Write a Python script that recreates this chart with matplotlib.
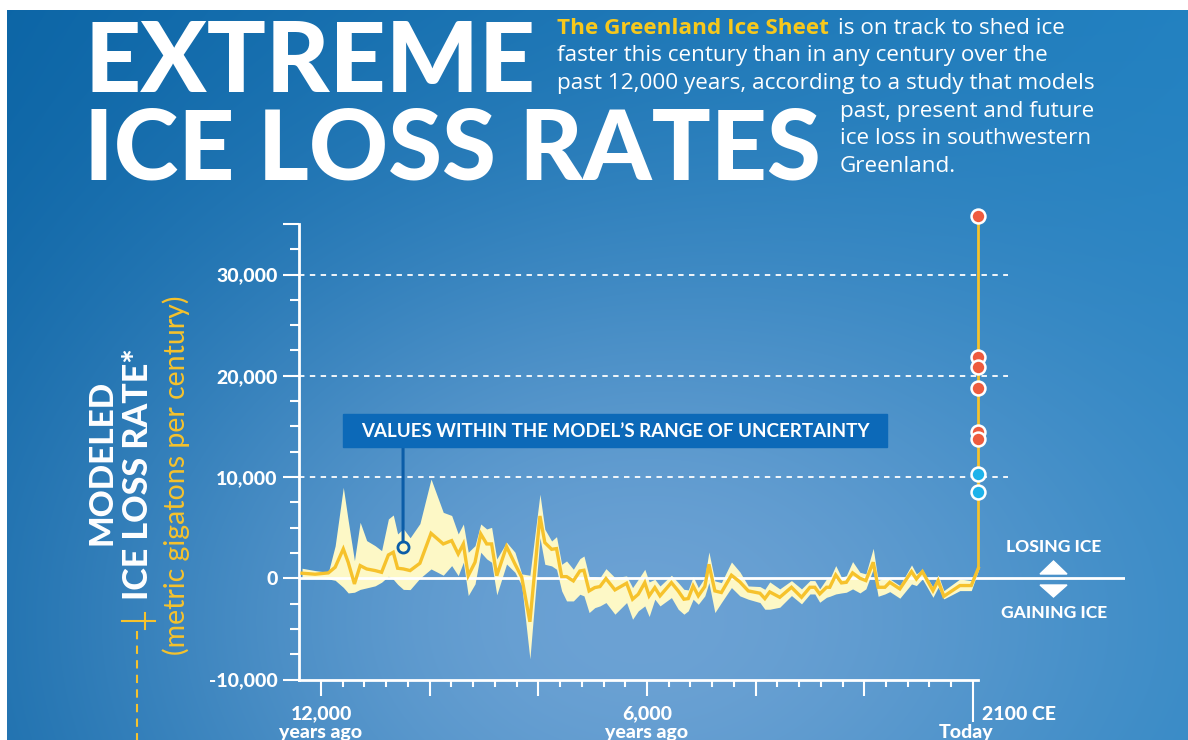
import numpy as np
import matplotlib
matplotlib.use('Agg')
import matplotlib.pyplot as plt
from matplotlib.patches import Rectangle, Polygon

plt.rcParams['font.family'] = ['Lato', 'DejaVu Sans']

# Modeled ice loss rate (years before present, gigatons per century).
years_ago = [12350, 12110, 11865, 11740, 11590, 11500, 11385, 11280, 11160, 11005,
             10885, 10760, 10670, 10590, 10485, 10360, 10180, 9975, 9750, 9595,
             9475, 9380, 9290, 9165, 9060, 8950, 8860, 8765, 8585, 8430,
             8305, 8155,
             7970, 7880, 7755, 7665, 7570, 7480, 7355, 7235, 7160, 7065,
             6960, 6865, 6755, 6590, 6375, 6265, 6160, 6040, 5960, 5855,
             5760, 5550, 5425, 5320, 5240, 5150, 5055, 4935, 4860, 4750,
             4630, 4445, 4290, 4135, 3920, 3830, 3740,
             3555, 3340, 3155, 3000, 2910, 2820, 2695, 2635, 2525, 2420,
             2330, 2215, 2080, 1970, 1835, 1745, 1620, 1530, 1345, 1130,
             1040, 930, 735, 640, 535, 240, 30, -100]
rate_mean = [500, 400, 530, 1090, 2900, 1580, -560, 1250, 920, 760,
             590, 2300, 2570, 990, 920, 760, 1480, 4440, 3390, 3720,
             2400, 3390, 260, 1580, 4380, 3390, 3390, 260, 3130, 1410,
             100, -4300,
             6150, 3520, 2860, 2930, 160, 160, -260, 720, 790, -1250,
             -920, -820, -30, -1150, -490, -2070, -1580, -430, -1740, -920,
             -1740, -430, -1250, -2070, -2010, -760, -1740, -820, 1380, -1250,
             -1410, 300, -360, -1250, -1480, -2010, -1350,
             -1880, -890, -1880, -890, -890, -1550, -890, -890, 330, -460,
             -400, 530, 0, -230, 1580, -890, -890, -400, -1050, 660,
             -70, 660, -1220, -230, -1780, -720, -720, 990]
rate_high = [990, 760, 590, 3200, 8980, 5700, 1740, 5530, 3720, 3220,
             2730, 5860, 6250, 4380, 4900, 4000, 5400, 9800, 6510, 6200,
             4380, 5360, 2570, 3220, 5360, 4870, 5030, 1910, 3550, 2570,
             430, 300,
             8300, 4840, 3680, 4110, 1380, 1710, 890, 1940, 2200, 160,
             160, 70, 950, 70, 230, -920, -100, 890, -360, -100,
             -760, 300, -430, -1090, -1150, 160, -920, 70, 2600, -260,
             -430, 1610, 630, -760, -820, -1090, -360,
             -1050, -230, -1050, -230, -230, -1050, -70, -70, 1250, 100,
             260, 1650, 590, 430, 2960, -230, 100, -70, -720, 1320,
             430, 860, -890, 330, -1220, -70, -230, 1320]
rate_low = [100, 0, -70, -200, -900, -1450, -1380, -1100, -950, -750,
            -390, 200, -100, -600, -1100, -1120, 0, 920, 300, 1250,
            260, 1580, -1710, -560, 2570, 1910, 1580, -1640, 1410, 590,
            -720, -7960,
            4000, 1380, 1220, 890, -1250, -2240, -2240, -1580, -1740, -3390,
            -2900, -2730, -2400, -3550, -2400, -4050, -3220, -2730, -3780, -2070,
            -2730, -1910, -3060, -3550, -3220, -2070, -2570, -1740, -430, -3390,
            -2400, -920, -1740, -2070, -2400, -3060, -3060,
            -2860, -1710, -2530, -1550, -1550, -2370, -1880, -1780, -1550, -1450,
            -1380, -1050, -1450, -1050, 920, -1780, -1550, -1320, -1970, -560,
            -720, -70, -1880, -890, -2040, -1220, -1220, 760]

# 2100 CE projections (dots on the vertical line).
proj_red = [35800, 21900, 20900, 18800, 14400, 13800]
proj_blue = [10300, 8500]

# Uncertainty callout point.
callout_year = 10490
callout_rate = 3060

y_ticks = [-10000, 0, 10000, 20000, 30000, 35000]
y_tick_labels = ['-10,000', '0', '10,000', '20,000', '30,000', '']
x_ticks = [12000, 10000, 8000, 6000, 4000, 2000, 0]
x_tick_labels = ['12,000\nyears ago', '', '', '6,000\nyears ago', '', '', '']

# Colours.
YELLOW = '#f6c22c'
BAND = '#fdf8c6'
RED = '#ee5b3e'
CYAN = '#1db2ea'
BOX_BLUE = '#0c69b8'
BODY = ['Open Sans', 'DejaVu Sans']

W, H = 1188, 740


def px(x, y):
    """ Pixel position (from top-left) to figure fraction. """
    return x / W, 1 - y / H


fig = plt.figure(figsize=(W / 100, H / 100), dpi=100)

# Background gradient panel with a white border on the top and left.
yy, xx = np.mgrid[0:H, 0:W]
dark = np.array([10, 100, 165]) / 255 + (np.array([32, 128, 192]) / 255 - np.array([10, 100, 165]) / 255) * (xx / W)[..., None]
light = np.array([108, 162, 212]) / 255
wgt = np.exp(-((xx - 640) / 560) ** 2 - ((yy - 620) / 400) ** 2)
img = dark + (light - dark) * wgt[..., None]
img[:10, :, :] = 1
img[:, :7, :] = 1
bg = fig.add_axes([0, 0, 1, 1], zorder=-10)
bg.imshow(np.clip(img, 0, 1), aspect='auto', interpolation='bilinear')
bg.axis('off')

# Main axes.
ax = fig.add_axes([299.3 / W, 1 - 679.5 / H, (1125 - 299.3) / W, (679.5 - 205.7) / H])
ax.patch.set_alpha(0)
ax.set_xlim(12400, -2800)
ax.set_ylim(-10000, 36800)

ax.fill_between(years_ago, rate_low, rate_high, color=BAND, lw=0, zorder=2)
ax.axhline(0, color='white', lw=2, zorder=3)
ax.hlines([10000, 20000, 30000], 12400, -650, colors='white', lw=1.3,
          linestyles=(0, (3, 3)), zorder=1)
ax.plot(years_ago, rate_mean, color=YELLOW, lw=2.4, zorder=4, solid_joinstyle='miter')
ax.plot([years_ago[-1], years_ago[-1]], [rate_mean[-1], max(proj_red)], color=YELLOW, lw=2, zorder=4)
ax.plot([years_ago[-1]] * len(proj_red), proj_red, 'o', ms=10, mfc=RED, mec='white', mew=1.8, zorder=6, clip_on=False)
ax.plot([years_ago[-1]] * len(proj_blue), proj_blue, 'o', ms=10, mfc=CYAN, mec='white', mew=1.8, zorder=6, clip_on=False)

# Callout marker and pointer.
box_l, box_t, box_r, box_b = 343, 414, 887, 447
ax.annotate('', xy=(callout_year, callout_rate), xytext=(callout_year, 1 - box_b / H),
            textcoords=('data', 'figure fraction'),
            arrowprops=dict(arrowstyle='-', color='#0b5da8', lw=2.2, shrinkA=0, shrinkB=4), zorder=7)
ax.plot(callout_year, callout_rate, 'o', ms=8, mfc='none', mec='#0b5da8', mew=2, zorder=7)
fig.patches.append(Rectangle(px(box_l, box_b), (box_r - box_l) / W, (box_b - box_t) / H,
                             transform=fig.transFigure, color=BOX_BLUE, zorder=5))
fig.text(*px((box_l + box_r) / 2, (box_t + box_b) / 2 + 1), "VALUES WITHIN THE MODEL\u2019S RANGE OF UNCERTAINTY",
         color='white', fontsize=13.5, weight='bold', ha='center', va='center', zorder=6)

# Axes styling.
for side in ['top', 'right']:
    ax.spines[side].set_visible(False)
ax.spines['left'].set_bounds(-10000, 35000)
ax.spines['bottom'].set_bounds(12400, -100)
for side in ['left', 'bottom']:
    ax.spines[side].set_color('white')
    ax.spines[side].set_linewidth(2)

ax.set_yticks(y_ticks)
ax.set_yticklabels(y_tick_labels)
ax.set_yticks(np.arange(-10000, 35001, 2500), minor=True)
ax.set_xticks(x_ticks)
ax.set_xticklabels(x_tick_labels, linespacing=1.15)
ax.set_xticks(np.arange(0, 12001, 400), minor=True)
ax.tick_params(axis='y', which='major', length=11.5, width=1.5, color='white', pad=4,
               labelcolor='white', labelsize=14)
ax.tick_params(axis='y', which='minor', length=6.5, width=1.5, color='white')
ax.tick_params(axis='x', which='major', length=11.5, width=1.5, color='white', pad=7,
               labelcolor='white', labelsize=14)
ax.tick_params(axis='x', which='minor', length=5, width=1.5, color='white')
for lab in ax.get_xticklabels() + ax.get_yticklabels():
    lab.set_fontweight('black')
ax.xaxis.get_major_ticks()[-1].tick1line.set_markersize(30)

fig.text(*px(982, 720), '2100 CE', color='white', fontsize=14, weight='black', va='baseline', ha='left')
fig.text(*px(966, 738), 'Today', color='white', fontsize=14, weight='black', va='baseline', ha='center')

# Losing / gaining ice marker on the right.
fig.text(*px(1054, 547), 'LOSING ICE', color='white', fontsize=12.5, weight='black', ha='center', va='center')
fig.text(*px(1054, 613), 'GAINING ICE', color='white', fontsize=12.5, weight='black', ha='center', va='center')
fig.patches.append(Polygon([px(1040, 574), px(1067, 574), px(1053.5, 561)], closed=True,
                           transform=fig.transFigure, color='white'))
fig.patches.append(Polygon([px(1040, 585), px(1067, 585), px(1053.5, 597)], closed=True,
                           transform=fig.transFigure, color='white'))

# Y axis title.
fig.text(*px(102, 462), 'MODELED', color='white', fontsize=24, weight='black', rotation=90, ha='center', va='center')
fig.text(*px(138, 474), 'ICE LOSS RATE*', color='white', fontsize=24.5, weight='black', rotation=90, ha='center', va='center')
fig.text(*px(176, 475), '(metric gigatons per century)', color=YELLOW, fontsize=20.5, rotation=90, ha='center', va='center')
fig.lines.append(plt.Line2D([122 / W, 155 / W], [1 - 621 / H] * 2, transform=fig.transFigure, color=YELLOW, lw=1.5))
fig.lines.append(plt.Line2D([145 / W, 145 / W], [1 - 613 / H, 1 - 629 / H], transform=fig.transFigure, color=YELLOW, lw=1.5))
fig.lines.append(plt.Line2D([137 / W, 137 / W], [1 - 631 / H, 0], transform=fig.transFigure, color=YELLOW, lw=1.5,
                            linestyle=(0, (4, 3))))

# Headline.
fig.text(*px(84, 92), 'EXTREME', color='white', fontsize=70.5, weight='black', va='baseline', ha='left')
fig.text(*px(84, 180), 'ICE LOSS RATES', color='white', fontsize=70.5, weight='black', va='baseline', ha='left')

# Intro paragraph.
fs = 16.2
fig.text(*px(557, 34), 'The Greenland Ice Sheet', color='#f7c81c', fontsize=fs, weight='bold', va='baseline', family=BODY)
fig.text(*px(838, 34), 'is on track to shed ice', color='white', fontsize=fs, va='baseline', family=BODY)
fig.text(*px(557, 61.5), 'faster this century than in any century over the', color='white', fontsize=fs, va='baseline', family=BODY)
fig.text(*px(557, 89), 'past 12,000 years, according to a study that models', color='white', fontsize=fs, va='baseline', family=BODY)
fig.text(*px(840, 116.5), 'past, present and future', color='white', fontsize=fs, va='baseline', family=BODY)
fig.text(*px(840, 144), 'ice loss in southwestern', color='white', fontsize=fs, va='baseline', family=BODY)
fig.text(*px(840, 171.5), 'Greenland.', color='white', fontsize=fs, va='baseline', family=BODY)

fig.savefig('out.png', dpi=100)
plt.close(fig)
